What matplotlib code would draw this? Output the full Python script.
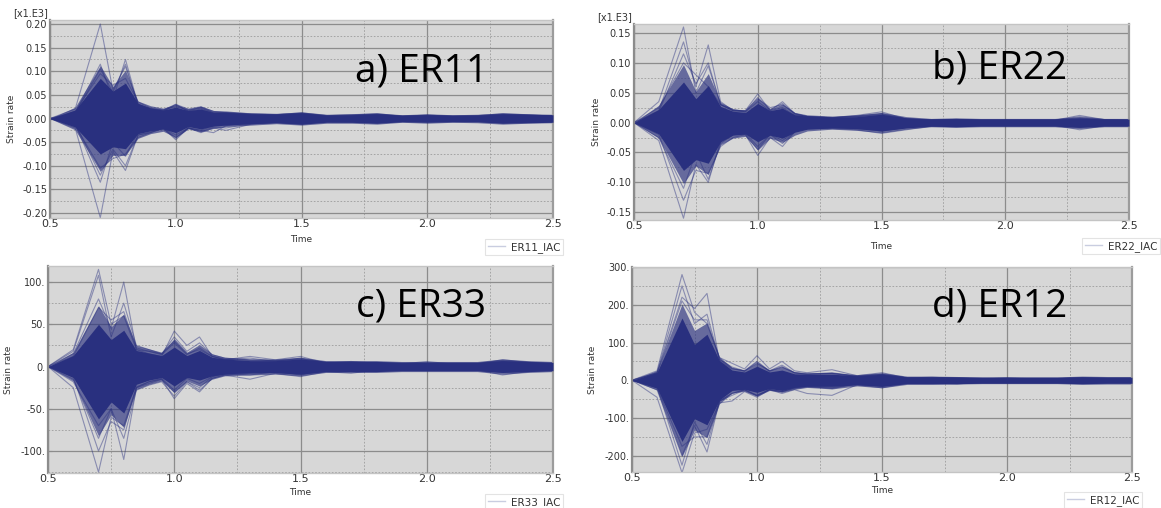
import matplotlib
matplotlib.use("Agg")
import matplotlib.pyplot as plt
from matplotlib.lines import Line2D
from matplotlib.ticker import MultipleLocator, FuncFormatter

# ---------------- data (values as displayed on each axis) ----------------
time = [0.5, 0.6, 0.7, 0.75, 0.8, 0.85, 0.9, 0.95, 1.0, 1.05, 1.1, 1.15, 1.2,
        1.3, 1.4, 1.5, 1.6, 1.7, 1.8, 1.9, 2.0, 2.1, 2.2, 2.3, 2.4, 2.5]

# a) ER11  [x1.E3]
er11_core_hi = [0, 0.018, 0.085, 0.058, 0.075, 0.032, 0.022, 0.018, 0.024, 0.017, 0.020, 0.013, 0.013,
                0.010, 0.009, 0.012, 0.007, 0.008, 0.010, 0.007, 0.008, 0.007, 0.007, 0.010, 0.009, 0.008]
er11_core_lo = [0, -0.018, -0.075, -0.060, -0.064, -0.032, -0.026, -0.022, -0.030, -0.017, -0.022, -0.016, -0.014,
                -0.011, -0.009, -0.012, -0.008, -0.008, -0.010, -0.007, -0.008, -0.007, -0.007, -0.010, -0.009, -0.008]
er11_mid_hi = [0, 0.024, 0.112, 0.068, 0.102, 0.037, 0.027, 0.022, 0.030, 0.021, 0.026, 0.017, 0.016,
               0.012, 0.011, 0.014, 0.009, 0.010, 0.012, 0.008, 0.010, 0.008, 0.009, 0.012, 0.010, 0.009]
er11_mid_lo = [0, -0.024, -0.112, -0.078, -0.078, -0.042, -0.032, -0.027, -0.040, -0.022, -0.028, -0.021, -0.017,
               -0.014, -0.011, -0.014, -0.010, -0.010, -0.012, -0.008, -0.010, -0.008, -0.009, -0.012, -0.010, -0.009]
er11_lines = [
    [0, 0.020, 0.200, 0.060, 0.110, 0.030, 0.020, 0.015, 0.030, 0.015, 0.020, 0.010, 0.010,
     0.008, 0.006, 0.010, 0.004, 0.005, 0.008, 0.003, 0.005, 0.003, 0.004, 0.007, 0.005, 0.004],
    [0, -0.020, -0.210, -0.070, -0.110, -0.035, -0.030, -0.020, -0.045, -0.020, -0.030, -0.020, -0.025,
     -0.012, -0.008, -0.010, -0.005, -0.006, -0.008, -0.004, -0.005, -0.004, -0.005, -0.008, -0.006, -0.004],
    [0, 0.012, 0.115, 0.040, 0.125, 0.030, 0.020, 0.018, 0.030, 0.020, 0.025, 0.015, 0.012,
     0.010, 0.008, 0.012, 0.006, 0.008, 0.010, 0.005, 0.007, 0.005, 0.006, 0.010, 0.008, 0.005],
    [0, -0.012, -0.135, -0.050, -0.080, -0.030, -0.025, -0.020, -0.035, -0.020, -0.025, -0.030, -0.015,
     -0.010, -0.008, -0.012, -0.006, -0.007, -0.009, -0.005, -0.006, -0.005, -0.006, -0.009, -0.007, -0.005],
    [0, -0.015, -0.105, -0.085, -0.075, -0.040, -0.030, -0.020, -0.040, -0.020, -0.025, -0.015, -0.012,
     -0.010, -0.008, -0.010, -0.006, -0.006, -0.008, -0.005, -0.006, -0.004, -0.005, -0.008, -0.006, -0.005],
    [0, 0.015, 0.095, 0.070, 0.085, 0.035, 0.022, 0.018, 0.025, 0.018, 0.022, 0.012, 0.012,
     0.008, 0.008, 0.010, 0.005, 0.006, 0.008, 0.004, 0.006, 0.004, 0.005, 0.008, 0.006, 0.005],
    [0, 0.010, 0.105, 0.055, 0.115, 0.028, 0.020, 0.016, 0.028, 0.016, 0.024, 0.012, 0.012,
     0.009, 0.008, 0.011, 0.006, 0.007, 0.009, 0.005, 0.007, 0.005, 0.006, 0.009, 0.007, 0.005],
    [0, -0.010, -0.120, -0.065, -0.100, -0.035, -0.028, -0.022, -0.042, -0.020, -0.028, -0.018, -0.020,
     -0.011, -0.008, -0.011, -0.006, -0.007, -0.009, -0.005, -0.006, -0.005, -0.006, -0.009, -0.007, -0.005],
]

# b) ER22  [x1.E3]
er22_core_hi = [0, 0.022, 0.068, 0.040, 0.062, 0.027, 0.019, 0.017, 0.032, 0.020, 0.024, 0.013, 0.011,
                0.009, 0.010, 0.014, 0.008, 0.006, 0.007, 0.006, 0.006, 0.006, 0.006, 0.008, 0.006, 0.006]
er22_core_lo = [0, -0.019, -0.080, -0.062, -0.068, -0.032, -0.021, -0.019, -0.032, -0.021, -0.026, -0.016, -0.011,
                -0.009, -0.010, -0.014, -0.009, -0.006, -0.007, -0.006, -0.006, -0.006, -0.006, -0.008, -0.006, -0.006]
er22_mid_hi = [0, 0.029, 0.097, 0.052, 0.082, 0.034, 0.023, 0.021, 0.041, 0.023, 0.031, 0.017, 0.013,
               0.011, 0.013, 0.017, 0.010, 0.007, 0.008, 0.007, 0.007, 0.007, 0.007, 0.010, 0.007, 0.007]
er22_mid_lo = [0, -0.026, -0.102, -0.072, -0.087, -0.037, -0.026, -0.023, -0.046, -0.026, -0.033, -0.021, -0.014,
               -0.011, -0.013, -0.017, -0.011, -0.007, -0.008, -0.007, -0.007, -0.007, -0.007, -0.010, -0.007, -0.007]
er22_lines = [
    [0, 0.035, 0.160, 0.050, 0.095, 0.030, 0.020, 0.020, 0.048, 0.020, 0.035, 0.015, 0.010,
     0.008, 0.012, 0.018, 0.006, 0.004, 0.005, 0.004, 0.004, 0.004, 0.004, 0.012, 0.005, 0.004],
    [0, -0.030, -0.160, -0.070, -0.100, -0.030, -0.020, -0.020, -0.055, -0.025, -0.040, -0.015, -0.010,
     -0.010, -0.012, -0.018, -0.012, -0.006, -0.005, -0.004, -0.004, -0.004, -0.004, -0.012, -0.005, -0.004],
    [0, 0.020, 0.135, 0.060, 0.130, 0.035, 0.020, 0.020, 0.040, 0.025, 0.030, 0.015, 0.010,
     0.008, 0.010, 0.014, 0.006, 0.004, 0.005, 0.004, 0.004, 0.004, 0.004, 0.008, 0.004, 0.004],
    [0, -0.020, -0.130, -0.080, -0.085, -0.040, -0.025, -0.020, -0.045, -0.020, -0.035, -0.015, -0.010,
     -0.008, -0.010, -0.014, -0.008, -0.005, -0.005, -0.004, -0.004, -0.004, -0.004, -0.008, -0.004, -0.004],
    [0, 0.025, 0.100, 0.080, 0.060, 0.030, 0.020, 0.018, 0.035, 0.020, 0.025, 0.012, 0.010,
     0.008, 0.010, 0.012, 0.006, 0.004, 0.005, 0.004, 0.004, 0.004, 0.004, 0.006, 0.004, 0.004],
    [0, -0.025, -0.110, -0.050, -0.095, -0.035, -0.020, -0.018, -0.040, -0.020, -0.030, -0.015, -0.010,
     -0.008, -0.010, -0.012, -0.008, -0.005, -0.005, -0.004, -0.004, -0.004, -0.004, -0.006, -0.004, -0.004],
    [0, 0.018, 0.115, 0.065, 0.100, 0.030, 0.022, 0.018, 0.042, 0.022, 0.032, 0.014, 0.010,
     0.008, 0.011, 0.015, 0.006, 0.005, 0.005, 0.004, 0.004, 0.004, 0.004, 0.010, 0.005, 0.004],
]

# c) ER33
er33_core_hi = [0, 13, 50, 32, 43, 19, 16, 13, 23, 13, 19, 11, 9, 7, 7, 9, 6, 6, 6, 5, 5, 5, 5, 7, 6, 5]
er33_core_lo = [0, -13, -62, -42, -55, -21, -16, -13, -23, -13, -16, -11, -9, -7, -7, -9, -6, -6, -6, -5, -5, -5, -5, -7, -6, -5]
er33_mid_hi = [0, 17, 72, 47, 62, 25, 21, 17, 33, 17, 26, 15, 11, 9, 9, 11, 7, 7, 7, 6, 6, 6, 6, 9, 7, 6]
er33_mid_lo = [0, -17, -82, -57, -72, -27, -21, -17, -31, -17, -23, -15, -11, -10, -9, -11, -7, -7, -7, -6, -6, -6, -6, -9, -7, -6]
er33_lines = [
    [0, 20, 115, 50, 60, 20, 15, 12, 42, 25, 35, 12, 8, 12, 8, 12, 4, 6, 4, 3, 6, 3, 3, 8, 5, 3],
    [0, -25, -125, -60, -70, -25, -18, -15, -38, -20, -30, -14, -10, -15, -8, -12, -6, -8, -4, -4, -4, -4, -4, -10, -6, -4],
    [0, 15, 80, 45, 100, 20, 18, 15, 30, 15, 20, 12, 8, 10, 6, 10, 4, 5, 4, 3, 4, 3, 3, 6, 4, 3],
    [0, -15, -85, -50, -110, -25, -20, -15, -30, -18, -25, -12, -8, -10, -6, -10, -5, -5, -4, -3, -4, -3, -3, -6, -4, -3],
    [0, 18, 108, 35, 75, 25, 20, 15, 35, 18, 28, 14, 10, 8, 7, 9, 5, 5, 5, 4, 4, 4, 4, 7, 5, 4],
    [0, -18, -70, -50, -85, -28, -22, -18, -35, -18, -28, -14, -10, -8, -7, -9, -5, -5, -5, -4, -4, -4, -4, -7, -5, -4],
    [0, 12, 70, 55, 65, 22, 18, 14, 28, 14, 22, 12, 9, 7, 7, 8, 5, 5, 4, 3, 4, 3, 3, 6, 4, 3],
    [0, -12, -100, -65, -75, -24, -18, -14, -28, -14, -20, -12, -9, -8, -7, -8, -5, -5, -4, -3, -4, -3, -3, -6, -4, -3],
]

# d) ER12
er12_core_hi = [0, 21, 165, 95, 122, 52, 27, 22, 37, 22, 27, 17, 16, 16, 12, 16, 9, 9, 9, 8, 8, 8, 8, 9, 8, 8]
er12_core_lo = [0, -21, -162, -102, -118, -52, -27, -24, -32, -22, -27, -19, -16, -16, -12, -16, -9, -9, -9, -8, -8, -8, -8, -9, -8, -8]
er12_mid_hi = [0, 26, 202, 132, 152, 62, 34, 27, 47, 27, 36, 22, 19, 21, 15, 20, 11, 11, 10, 9, 9, 9, 9, 11, 10, 10]
er12_mid_lo = [0, -26, -202, -132, -152, -62, -34, -29, -42, -27, -32, -24, -19, -23, -15, -20, -11, -11, -10, -9, -9, -9, -9, -11, -10, -10]
er12_lines = [
    [0, 25, 280, 180, 150, 60, 45, 30, 65, 30, 50, 25, 20, 28, 12, 20, 6, 8, 5, 4, 6, 4, 4, 6, 5, 5],
    [0, -45, -245, -140, -130, -60, -55, -30, -45, -25, -35, -25, -35, -40, -12, -20, -8, -6, -10, -4, -5, -4, -4, -8, -5, -5],
    [0, 20, 220, 190, 230, 50, 30, 25, 45, 25, 40, 20, 18, 18, 10, 16, 6, 6, 5, 4, 5, 4, 4, 6, 5, 5],
    [0, -25, -200, -120, -190, -55, -35, -25, -40, -25, -30, -22, -18, -20, -10, -16, -6, -6, -5, -4, -5, -4, -4, -6, -5, -5],
    [0, 20, 250, 150, 175, 55, 35, 25, 50, 25, 35, 20, 15, 18, 10, 15, 6, 6, 5, 4, 5, 4, 4, 6, 5, 5],
    [0, -20, -175, -150, -150, -55, -35, -25, -40, -25, -30, -20, -15, -18, -10, -15, -6, -6, -5, -4, -5, -4, -4, -6, -5, -5],
    [0, 18, 210, 160, 160, 55, 32, 24, 48, 24, 36, 20, 16, 20, 10, 15, 6, 6, 5, 4, 5, 4, 4, 6, 5, 5],
    [0, -18, -225, -110, -170, -55, -40, -26, -42, -24, -30, -20, -16, -22, -10, -15, -6, -6, -5, -4, -5, -4, -4, -6, -5, -5],
]

panel_titles = ["a) ER11", "b) ER22", "c) ER33", "d) ER12"]
legend_labels = ["ER11_IAC", "ER22_IAC", "ER33_IAC", "ER12_IAC"]

# ---------------- styling ----------------
NAVY = "#29307f"
BG = "#d7d7d7"

fig = plt.figure(figsize=(11.61, 5.08), dpi=100)
W, H = 1161, 508

def ax_at(l, t, r, b):
    return fig.add_axes([l / W, 1 - b / H, (r - l) / W, (b - t) / H])

panels = [
    dict(box=(50, 20, 553, 218), ylim=(-0.2106, 0.2085), major=0.05, minor=0.025,
         fmt=lambda v, p: f"{v:.2f}", core=(er11_core_hi, er11_core_lo), mid=(er11_mid_hi, er11_mid_lo),
         lines=er11_lines, mult=True, title_xy=(422, 82), leg=(563, 239), time_y=235, ylab_x=16),
    dict(box=(634, 24, 1129, 220), ylim=(-0.163, 0.165), major=0.05, minor=0.025,
         fmt=lambda v, p: f"{v:.2f}", core=(er22_core_hi, er22_core_lo), mid=(er22_mid_hi, er22_mid_lo),
         lines=er22_lines, mult=True, title_xy=(1000, 79), leg=(1160, 238), time_y=242, ylab_x=601),
    dict(box=(48, 266, 553, 473), ylim=(-126, 119), major=50, minor=25,
         fmt=lambda v, p: f"{v:.0f}.", core=(er33_core_hi, er33_core_lo), mid=(er33_mid_hi, er33_mid_lo),
         lines=er33_lines, mult=False, title_xy=(421, 317), leg=(563, 494), time_y=488, ylab_x=13),
    dict(box=(632, 267, 1132, 472), ylim=(-243, 300), major=100, minor=50,
         fmt=lambda v, p: f"{v:.0f}.", core=(er12_core_hi, er12_core_lo), mid=(er12_mid_hi, er12_mid_lo),
         lines=er12_lines, mult=False, title_xy=(1000, 317), leg=(1142, 492), time_y=486, ylab_x=597),
]

for i, p in enumerate(panels):
    l, t, r, b = p["box"]
    ax = ax_at(l, t, r, b)
    ax.set_facecolor(BG)
    ax.set_xlim(0.5, 2.5)
    ax.set_ylim(*p["ylim"])
    ax.xaxis.set_major_locator(MultipleLocator(0.5))
    ax.xaxis.set_minor_locator(MultipleLocator(0.25))
    ax.yaxis.set_major_locator(MultipleLocator(p["major"]))
    ax.yaxis.set_minor_locator(MultipleLocator(p["minor"]))
    ax.yaxis.set_major_formatter(FuncFormatter(p["fmt"]))
    ax.xaxis.set_major_formatter(FuncFormatter(lambda v, q: f"{v:.1f}"))
    ax.grid(which="major", color="#8c8c8c", lw=0.9, ls="-", zorder=0)
    ax.grid(which="minor", color="#9c9c9c", lw=0.6, ls=(0, (2, 2)), zorder=0)
    ax.set_axisbelow(True)
    ax.tick_params(which="both", length=0, labelcolor="#333333")
    ax.tick_params(axis="y", which="major", length=3, color="#8c8c8c", direction="in", labelsize=7, pad=2)
    ax.tick_params(axis="x", labelsize=8, pad=1)
    for s in ax.spines.values():
        s.set_color("#c4c4c4")
        s.set_linewidth(1.0)
    ax.spines["left"].set_color("#8c8c8c")
    ax.spines["left"].set_linewidth(1.6)
    ax.spines["right"].set_color("#9c9c9c")
    ax.spines["right"].set_linewidth(1.6)

    ax.fill_between(time, p["mid"][1], p["mid"][0], color=NAVY, alpha=0.65, lw=0, zorder=2)
    ax.fill_between(time, p["core"][1], p["core"][0], color=NAVY, alpha=1.0, lw=0, zorder=3)
    for ln in p["lines"]:
        ax.plot(time, ln, color=NAVY, lw=0.8, alpha=0.45, zorder=2.5)

    ax.set_xlabel("Time", fontsize=6.5, color="#333333")
    ax.xaxis.set_label_coords(0.5, -(p["time_y"] - b) / (b - t))
    ax.set_ylabel("Strain rate", fontsize=6.5, color="#333333")
    ax.yaxis.set_label_coords((p["ylab_x"] - l) / (r - l), 0.5)

    if p["mult"]:
        ax.text(-0.004, 1 + 7 / (b - t), "[x1.E3]", transform=ax.transAxes, ha="right", va="center",
                fontsize=7, color="#333333")

    tx, ty = p["title_xy"]
    fig.text(tx / W, 1 - ty / H, panel_titles[i], ha="center", va="baseline",
             fontsize=28, family="Open Sans", color="black")

    lx, ly = p["leg"]
    handle = Line2D([], [], color="#c9cde0", lw=1)
    leg = ax.legend([handle], [legend_labels[i]], loc="upper right",
                    bbox_to_anchor=((lx - l) / (r - l), -(ly - b) / (b - t)),
                    fontsize=7.5, frameon=True, fancybox=False, borderpad=0.25,
                    handlelength=1.6, handletextpad=0.6, borderaxespad=0)
    leg.get_frame().set_edgecolor("#dcdcdc")
    leg.get_frame().set_linewidth(0.8)
    for txt in leg.get_texts():
        txt.set_color("#333333")

fig.savefig("out.png", dpi=100, facecolor="white")
